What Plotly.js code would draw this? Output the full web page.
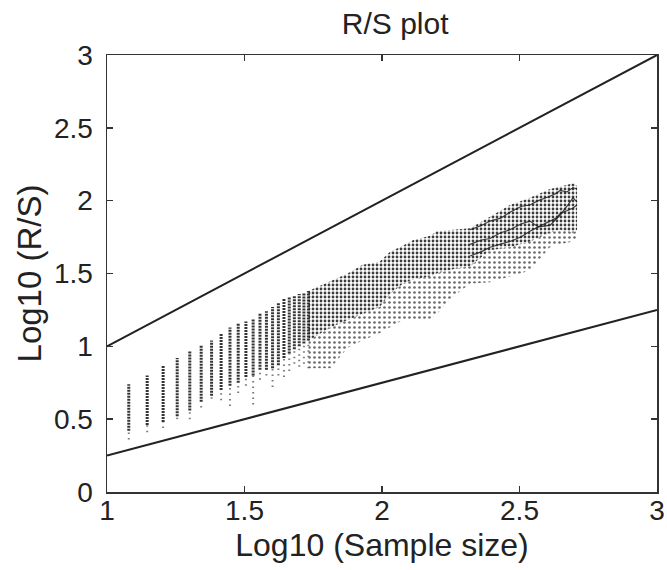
<!DOCTYPE html>
<html><head><meta charset="utf-8">
<script src="https://cdn.plot.ly/plotly-3.0.1.min.js"></script>
<style>html,body{margin:0;padding:0;background:#fff}</style>
</head><body><div id="chart" style="width:667px;height:570px"></div>
<script>
// ---- data ----
const xTickVals = [1, 1.5, 2, 2.5, 3];
const yTickVals = [0, 0.5, 1, 1.5, 2, 2.5, 3];

// reference lines (slope 1 and slope 0.5)
const refLineX = [1, 3];
const upperLineY = [1, 3];
const lowerLineY = [0.25, 1.25];

// individual sample-size columns (low sample sizes, clearly separated)
const colN    = [12, 14, 16, 18, 20, 22, 24, 26, 28, 30, 32, 34, 36, 38, 40, 42, 44, 46, 48, 50, 52, 54];
const colMax  = [0.74,0.80,0.87,0.92,0.97,1.01,1.04,1.09,1.13,1.16,1.17,1.19,1.23,1.24,1.27,1.30,1.33,1.34,1.35,1.36,1.37,1.38];
const colCore = [0.42,0.46,0.48,0.52,0.56,0.62,0.66,0.70,0.73,0.75,0.79,0.80,0.84,0.84,0.85,0.87,0.92,0.95,0.98,1.00,1.02,1.04];
const colMin  = [0.36,0.41,0.44,0.50,0.50,0.58,0.64,0.63,0.59,0.68,0.73,0.60,0.77,0.80,0.72,0.80,0.79,0.83,0.88,0.86,0.88,0.85];

// dense cloud for larger sample sizes (envelope read at these sample sizes)
const bandN    = [54, 65, 75, 85, 98, 107, 119, 130, 150, 158, 181, 209, 247, 292, 345, 408, 444, 495, 512];
const bandMax  = [1.38,1.45,1.50,1.56,1.58,1.65,1.69,1.73,1.76,1.79,1.80,1.81,1.89,1.97,2.02,2.08,2.095,2.12,2.10];
const bandCore = [1.04,1.13,1.18,1.22,1.27,1.36,1.43,1.46,1.48,1.50,1.53,1.55,1.66,1.68,1.72,1.78,1.80,1.78,1.80];
const bandMin  = [0.85,0.85,0.99,1.04,1.09,1.13,1.18,1.18,1.19,1.22,1.34,1.43,1.44,1.48,1.52,1.68,1.70,1.72,1.75];

// a few individual wiggly series visible at the largest sample sizes
const wigN  = [209, 230, 247, 270, 292, 320, 345, 370, 408, 430, 444, 470, 495, 512];
const wigA  = [1.80,1.83,1.86,1.88,1.92,1.96,1.97,2.00,2.03,2.05,2.07,2.06,2.09,2.08];
const wigB  = [1.62,1.65,1.68,1.70,1.72,1.75,1.79,1.82,1.86,1.88,1.91,1.93,1.95,1.97];
const wigC  = [1.70,1.73,1.74,1.78,1.80,1.84,1.86,1.82,1.83,1.87,1.90,1.96,2.02,1.99];

// ---- build traces ----
const lg = v => Math.log10(v);
function segTrace(ns, lo, hi, color, width, dash) {
  const x = [], y = [];
  ns.forEach((n, i) => { x.push(lg(n), lg(n), null); y.push(lo[i], hi[i], null); });
  return {type:'scatter', mode:'lines', x, y, hoverinfo:'skip', showlegend:false,
          line:{color, width, dash}};
}
function bandTraces(lo, hi, pattern) {
  const bx = bandN.map(lg);
  return [
    {type:'scatter', mode:'lines', x:bx, y:lo, line:{width:0, color:'rgba(0,0,0,0)'}, showlegend:false, hoverinfo:'skip'},
    {type:'scatter', mode:'lines', x:bx, y:hi, fill:'tonexty', fillcolor:'rgba(0,0,0,0)',
     fillpattern:pattern, line:{width:0, color:'rgba(0,0,0,0)'}, showlegend:false, hoverinfo:'skip'}
  ];
}

const traces = [];
traces.push(...bandTraces(bandMin, bandCore, {shape:'.', size:5, solidity:0.22, fgcolor:'rgba(80,80,80,0.85)', bgcolor:'rgba(0,0,0,0)'}));
traces.push(...bandTraces(bandCore, bandMax, {shape:'.', size:4, solidity:0.38, fgcolor:'rgba(40,40,40,0.9)', bgcolor:'rgba(0,0,0,0)'}));
traces.push(segTrace(colN, colMin, colCore, 'rgba(80,80,80,0.75)', 2, '1.5px,4px'));
traces.push(segTrace(colN, colCore, colMax, 'rgba(30,30,30,0.9)', 3, '2px,1px'));
[wigA, wigB, wigC].forEach(w => traces.push({type:'scatter', mode:'lines', x:wigN.map(lg), y:w,
  line:{color:'rgba(30,30,30,0.85)', width:1.2}, showlegend:false, hoverinfo:'skip'}));
traces.push({type:'scatter', mode:'lines', x:refLineX, y:upperLineY, line:{color:'#222', width:2}, showlegend:false});
traces.push({type:'scatter', mode:'lines', x:refLineX, y:lowerLineY, line:{color:'#222', width:2}, showlegend:false});

const font = 'Liberation Sans, Arial, sans-serif';
const axisCommon = {
  showline:true, linecolor:'#333', linewidth:1.5, mirror:'ticks',
  ticks:'inside', ticklen:6, tickwidth:1.5, tickcolor:'#333',
  showgrid:false, zeroline:false, tickfont:{family:font, size:28, color:'#222'}
};
const layout = {
  width:667, height:570,
  margin:{l:107, r:10, t:55, b:78},
  paper_bgcolor:'#fff', plot_bgcolor:'#fff',
  title:{text:'R/S plot', font:{family:font, size:30, color:'#222'},
         xref:'paper', x:0.524, xanchor:'center', yref:'container', y:0.958, yanchor:'middle'},
  xaxis:Object.assign({}, axisCommon, {range:[1,3], tickvals:xTickVals, ticklabelstandoff:-7,
    title:{text:'Log10 (Sample size)', font:{family:font, size:32, color:'#222'}, standoff:8}}),
  yaxis:Object.assign({}, axisCommon, {range:[0,3], tickvals:yTickVals, ticklabelstandoff:7,
    title:{text:'Log10 (R/S)', font:{family:font, size:33, color:'#222'}, standoff:2}}),
  showlegend:false
};
Plotly.newPlot('chart', traces, layout, {staticPlot:true, displayModeBar:false});
</script></body></html>
